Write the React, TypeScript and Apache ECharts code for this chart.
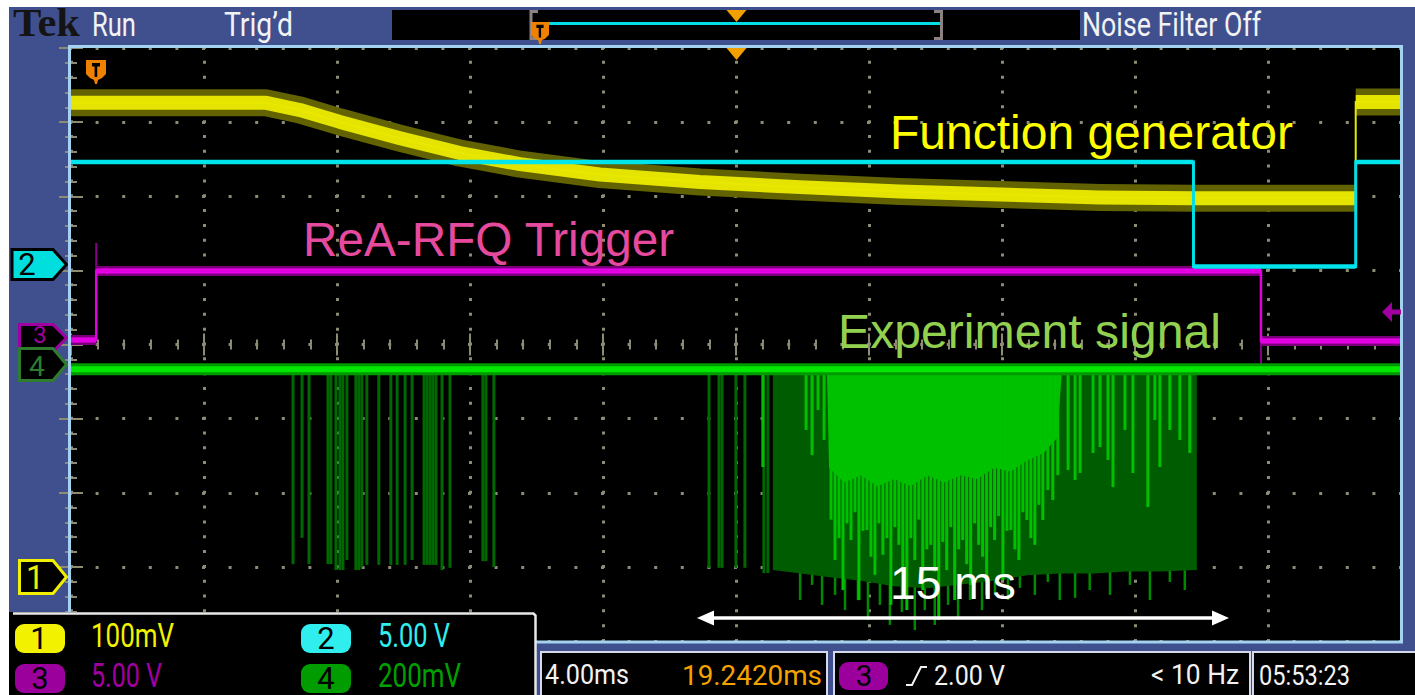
import React, { useEffect, useRef } from "react";
import * as echarts from "echarts";

// ---------------- data ----------------
// Horizontal: 4 ms/div, 10 div, record centred 19.242 ms after the trigger
const TIME_START_MS = -0.758;
const TIME_END_MS = 39.242;

// Channel 1 (yellow) – function generator, mV
const CH1_TIME_MS = [-0.758, 5.08, 6.13, 7.33, 9.14, 10.94, 12.75, 15.15, 18.16, 21.17, 24.17, 27.18, 30.19, 32.99, 37.88, 37.88, 39.242];
const CH1_MV = [640, 640, 630, 614, 592, 572, 557, 543, 533, 526, 520, 516, 512, 511, 511, 641, 641];

// Channel 2 (cyan), V
const CH2_TIME_MS = [-0.758, 33.0, 33.0, 37.88, 37.88, 39.242];
const CH2_V = [6.95, 6.95, -0.1, -0.1, 6.95, 6.95];

// Channel 3 (magenta) – ReA-RFQ trigger, V
const CH3_TIME_MS = [-0.758, 0, 0, 35.03, 35.03, 39.242];
const CH3_V = [-0.13, -0.13, 4.52, 4.52, -0.2, -0.2];
const CH3_EDGE_GLITCH: [number, number, number][] = [
  [0, 4.52, 6.41],
  [35.03, -0.2, -2.16],
];

// Channel 4 (green) – experiment signal, mV
const CH4_BASELINE_MV = -14;
// isolated negative pulses [ms, minimum mV]
const CH4_PULSES: [number, number][] = [
  [5.92, -540], [6.19, -469], [6.4, -540], [6.97, -540], [7.06, -540], [7.21, -556], [7.33, -556],
  [7.42, -556], [7.54, -529], [7.81, -556], [7.9, -556], [7.99, -548], [8.14, -542], [8.5, -542],
  [8.86, -542], [9.05, -542], [9.29, -542], [9.5, -529], [9.86, -542], [9.95, -542], [10.04, -542],
  [10.13, -542], [10.22, -542], [10.4, -556], [10.64, -550], [11.63, -532], [11.72, -532], [11.96, -548],
  [18.43, -550], [18.73, -550], [18.82, -550], [19.24, -550], [19.51, -550], [20.08, -564], [20.2, -564],
];
// envelope of the dense burst [ms, mV]
const CH4_BURST_ENVELOPE: [number, number][] = [
  [20.35, -14], [20.35, -556], [21.2, -565], [22.0, -575], [23.0, -585], [24.0, -600], [25.0, -605],
  [26.0, -595], [27.0, -585], [28.0, -570], [29.0, -565], [30.0, -565], [31.0, -560], [32.0, -560],
  [33.1, -556], [33.1, -14],
];
// deepest pulses hanging below the burst [ms, minimum mV]
const CH4_BURST_FRINGE: [number, number][] = [
  [21.17, -637], [21.53, -596], [21.83, -650], [22.22, -623], [22.52, -664], [22.91, -637], [23.21, -691],
  [23.57, -650], [23.87, -704], [24.23, -669], [24.62, -718], [24.92, -664], [25.22, -704], [25.62, -650],
  [25.92, -685], [26.28, -637], [26.64, -664], [27.03, -623], [27.42, -637], [27.78, -604], [28.23, -623],
  [28.62, -588], [28.98, -637], [29.44, -631], [29.88, -610], [30.49, -623], [31.09, -596], [31.69, -637],
  [32.29, -588], [32.74, -610],
];
// most frequent (bright) part of the burst [ms, mV]
const CH4_BURST_CORE: [number, number][] = [
  [21.98, -22], [22.04, -280], [22.5, -320], [23.0, -300], [23.5, -330], [24.0, -310], [24.5, -330],
  [25.0, -300], [25.5, -320], [26.0, -300], [26.5, -310], [27.0, -280], [27.5, -290], [28.0, -260],
  [28.5, -240], [28.9, -200], [29.04, -22],
];
const CH4_BRIGHT_PULSES: [number, number][] = [
  [20.05, -278], [21.35, -178], [21.53, -246], [21.71, -124], [21.89, -205],
  [22.1, -420], [22.22, -529], [22.34, -470], [22.46, -610], [22.58, -430], [22.7, -475], [22.82, -400],
  [22.94, -637], [23.06, -450], [23.18, -448], [23.3, -520], [23.42, -569], [23.54, -430], [23.66, -515],
  [23.78, -470], [23.9, -650], [24.02, -440], [24.14, -488], [24.26, -560], [24.38, -664], [24.5, -470],
  [24.62, -529], [24.74, -420], [24.86, -610], [24.98, -500], [25.1, -488], [25.22, -560], [25.34, -691],
  [25.46, -480], [25.58, -556], [25.7, -440], [25.82, -637], [25.94, -500], [26.06, -475], [26.18, -540],
  [26.3, -596], [26.42, -430], [26.54, -488], [26.66, -520], [26.78, -623], [26.9, -440], [27.02, -475],
  [27.14, -410], [27.27, -583], [27.39, -450], [27.51, -448], [27.63, -500], [27.75, -529], [27.87, -400],
  [27.99, -421], [28.11, -470], [28.23, -488], [28.35, -380], [28.47, -421], [28.62, -340], [28.77, -367],
  [28.92, -300],
  [29.23, -286], [29.44, -313], [29.59, -294], [29.98, -240], [30.19, -224], [30.43, -259], [30.58, -332],
  [30.94, -178], [31.18, -294], [31.63, -386], [31.84, -151], [31.99, -278], [32.29, -178], [32.59, -205],
  [32.89, -240],
];

// vertical settings: units per division and ground marker position (div from centre)
const CHANNELS: Record<string, { perDiv: number; ground: number }> = {
  ch1: { perDiv: 100, ground: -3.137 },
  ch2: { perDiv: 5, ground: 1.073 },
  ch3: { perDiv: 5, ground: 0.088 },
  ch4: { perDiv: 200, ground: -0.263 },
};

// ---------------- helpers ----------------
const GRAT = "#8e8b74";
const FRAME = "#40508f";

const toDiv = (ch: string) => (v: number) => CHANNELS[ch].ground + v / CHANNELS[ch].perDiv;

function trace(ts: number[], vs: number[], f: (v: number) => number) {
  return ts.map((t, i) => [t, f(vs[i])]);
}
function flats(ts: number[], vs: number[], f: (v: number) => number) {
  const out: any[] = [];
  ts.forEach((t, i) => {
    if (i > 0 && t === ts[i - 1]) out.push([t, "-"]);
    out.push([t, f(vs[i])]);
  });
  return out;
}

function lineSeries(data: any[], color: string, width: number, z: number, join = "round") {
  return {
    type: "line",
    xAxisIndex: 2,
    yAxisIndex: 0,
    data,
    symbol: "none",
    silent: true,
    z,
    lineStyle: { color, width, cap: "butt", join },
    emphasis: { disabled: true },
  };
}

function segSeries(items: number[][], color: string, width: number, z: number) {
  return {
    type: "custom",
    xAxisIndex: 2,
    yAxisIndex: 0,
    silent: true,
    z,
    dimensions: ["t", "a", "b"],
    encode: { x: 0, y: [1, 2] },
    data: items,
    renderItem: (params: any, api: any) => {
      const a = api.coord([api.value(0), api.value(1)]);
      const b = api.coord([api.value(0), api.value(2)]);
      return {
        type: "line",
        shape: { x1: a[0], y1: a[1], x2: b[0], y2: b[1] },
        style: { stroke: color, lineWidth: width },
      };
    },
  };
}

function polySeries(pts: number[][], color: string, z: number) {
  return {
    type: "custom",
    xAxisIndex: 2,
    yAxisIndex: 0,
    silent: true,
    z,
    encode: { x: 0, y: 1 },
    data: pts,
    renderItem: (params: any, api: any) => {
      if (params.dataIndex !== 0) return null;
      return {
        type: "polygon",
        shape: { points: pts.map((p) => api.coord(p)) },
        style: { fill: color },
      };
    },
  };
}

let measureCtx: any = null;
function textWidth(text: string, font: string) {
  if (!measureCtx) measureCtx = document.createElement("canvas").getContext("2d");
  measureCtx.font = font;
  return measureCtx.measureText(text).width;
}

function ptext(
  text: string,
  x: number,
  capTop: number,
  capH: number,
  width: number | null,
  fill: string,
  opts: { align?: string; family?: string; weight?: string; capRatio?: number; z?: number } = {}
) {
  const family = opts.family || "Roboto";
  const weight = opts.weight || "normal";
  const capRatio = opts.capRatio || 0.711;
  const align = opts.align || "left";
  const fontSize = capH / capRatio;
  const sx = width ? width / textWidth(text, `${weight} ${fontSize}px ${family}`) : 1;
  return {
    type: "text",
    x,
    y: capTop + capH / 2,
    scaleX: sx,
    z: opts.z ?? 70,
    silent: true,
    style: {
      text,
      fill,
      fontSize,
      fontFamily: family,
      fontWeight: weight,
      lineHeight: Math.round(capH * 1.1),
      align,
      textAlign: align,
      verticalAlign: "middle",
      textVerticalAlign: "middle",
    },
  };
}

function shield(x: number, y: number, w: number, h: number, z: number) {
  const P = (px: number, py: number) => [x + (px * w) / 20, y + (py * h) / 24];
  return [
    {
      type: "polygon",
      z,
      silent: true,
      shape: { points: [P(0, 0), P(20, 0), P(20, 14), P(16, 18), P(12, 20), P(11, 24), P(9, 24), P(8, 20), P(4, 18), P(0, 14)] },
      style: { fill: "#f08000" },
    },
    {
      type: "polygon",
      z: z + 1,
      silent: true,
      shape: { points: [P(6, 3), P(14, 3), P(14, 6.5), P(11.2, 6.5), P(11.2, 17), P(8.6, 17), P(8.6, 6.5), P(6, 6.5)] },
      style: { fill: "#000" },
    },
  ];
}

function marker(x0: number, yc: number, h: number, stroke: string, fill: string, z: number) {
  return {
    type: "polygon",
    z,
    silent: true,
    shape: { points: [[x0, yc - h / 2], [53, yc - h / 2], [66.5, yc], [53, yc + h / 2], [x0, yc + h / 2]] },
    style: { fill, stroke, lineWidth: 3 },
  };
}

function pill(x: number, y: number, w: number, h: number, fill: string, z: number) {
  return { type: "rect", z, silent: true, shape: { x, y, width: w, height: h, r: 9 }, style: { fill } };
}

function buildGraphics() {
  const g: any[] = [];
  // outer frame
  g.push({ type: "rect", z: -100, silent: true, shape: { x: 9, y: 7, width: 1406, height: 688 }, style: { fill: FRAME } });

  // ---- header ----
  g.push(ptext("Tek", 13, 10, 26, 67, "#141414", { family: "Liberation Serif", weight: "bold", capRatio: 0.662, z: -80 }));
  g.push(ptext("Run", 92, 13, 23, 44, "#f2f2f2", { z: -80 }));
  g.push(ptext("Trig\u2019d", 224, 13, 23, 69, "#f2f2f2", { z: -80 }));
  g.push(ptext("Noise Filter Off", 1082, 13, 23, 179, "#f2f2f2", { z: -80 }));
  g.push({ type: "rect", z: -90, silent: true, shape: { x: 392, y: 10, width: 688, height: 30 }, style: { fill: "#000" } });
  g.push({ type: "polyline", z: -85, silent: true, shape: { points: [[538, 11.5], [531, 11.5], [531, 38.5], [538, 38.5]] }, style: { stroke: "#8c8282", lineWidth: 3, fill: "none" } });
  g.push({ type: "polyline", z: -85, silent: true, shape: { points: [[934, 11.5], [941.5, 11.5], [941.5, 38.5], [934, 38.5]] }, style: { stroke: "#8c8282", lineWidth: 3, fill: "none" } });
  g.push({ type: "line", z: -84, silent: true, shape: { x1: 546, y1: 23.5, x2: 940, y2: 23.5 }, style: { stroke: "#00dde6", lineWidth: 3 } });
  g.push({ type: "polygon", z: -84, silent: true, shape: { points: [[726.5, 10], [746.5, 10], [736.5, 22]] }, style: { fill: "#f2a000" } });
  g.push(...shield(531, 22, 18, 22, -83));

  // ---- plot overlays ----
  g.push({ type: "rect", z: 40, silent: true, shape: { x: 69.5, y: 46.5, width: 1332, height: 595.5 }, style: { fill: "none", stroke: "#a5d2f0", lineWidth: 3 } });
  g.push({ type: "polygon", z: 45, silent: true, shape: { points: [[726.5, 48], [746.5, 48], [736.5, 60]] }, style: { fill: "#f2a000" } });
  g.push(...shield(86, 60, 20, 24, 45));
  g.push({
    type: "polygon",
    z: 45,
    silent: true,
    shape: { points: [[1382, 312], [1392, 302], [1392, 309.5], [1401, 309.5], [1401, 314.5], [1392, 314.5], [1392, 322]] },
    style: { fill: "#a000a0" },
  });

  // channel markers on the left
  g.push(marker(12, 264.5, 30, "#000", "#00dede", 30));
  g.push(ptext("2", 27, 253, 22, null, "#000", { align: "center", z: 31 }));
  g.push(marker(19.5, 338, 27, "#a000a0", "#000", 30));
  g.push(ptext("3", 40, 326, 17, null, "#a000a0", { align: "center", z: 31 }));
  g.push(marker(19.5, 364.5, 32, "#2e7d2e", "#000", 32));
  g.push(ptext("4", 37, 356, 20, null, "#2e7d2e", { align: "center", z: 33 }));
  g.push(marker(19.5, 577, 33, "#f0f000", "#000", 30));
  g.push(ptext("1", 35, 566, 23, null, "#f0f000", { align: "center", z: 31 }));

  // annotations
  g.push(ptext("Function generator", 890, 116, 34, 403, "#ffff00", { family: "Liberation Sans", capRatio: 0.716, z: 50 }));
  g.push(ptext("ReA-RFQ Trigger", 303, 223, 34, 372, "#e64a9e", { family: "Liberation Sans", capRatio: 0.716, z: 50 }));
  g.push(ptext("Experiment signal", 838, 315, 34, 383, "#92d050", { family: "Liberation Sans", capRatio: 0.716, z: 50 }));
  g.push(ptext("15 ms", 890, 567, 33, 126, "#ffffff", { family: "Liberation Sans", capRatio: 0.716, z: 50 }));
  g.push({ type: "line", z: 50, silent: true, shape: { x1: 710, y1: 618, x2: 1216, y2: 618 }, style: { stroke: "#fff", lineWidth: 3.5 } });
  g.push({ type: "polygon", z: 50, silent: true, shape: { points: [[697, 618], [714, 610.5], [714, 625.5]] }, style: { fill: "#fff" } });
  g.push({ type: "polygon", z: 50, silent: true, shape: { points: [[1229, 618], [1212, 610.5], [1212, 625.5]] }, style: { fill: "#fff" } });

  // ---- legend box (bottom-left) ----
  g.push({ type: "rect", z: 60, silent: true, shape: { x: 9, y: 612, width: 527, height: 83 }, style: { fill: "#000" } });
  g.push({ type: "polyline", z: 61, silent: true, shape: { points: [[13, 613.5], [533.5, 613.5], [535.5, 615.5], [535.5, 695]] }, style: { stroke: "#e8e8e8", lineWidth: 2.5, fill: "none" } });
  g.push(pill(15, 624, 50, 29, "#f2f200", 62));
  g.push(pill(15, 664, 50, 29, "#9c009c", 62));
  g.push(pill(301, 624, 50, 29, "#30eeee", 62));
  g.push(pill(301, 664, 50, 29, "#009c00", 62));
  g.push(ptext("1", 39, 627, 22, null, "#000", { align: "center", z: 63 }));
  g.push(ptext("3", 40, 667, 22, null, "#000", { align: "center", z: 63 }));
  g.push(ptext("2", 326, 627, 22, null, "#000", { align: "center", z: 63 }));
  g.push(ptext("4", 326, 667, 22, null, "#000", { align: "center", z: 63 }));
  g.push(ptext("100mV", 91, 624, 23, 83, "#f2f200", { z: 63 }));
  g.push(ptext("5.00 V", 91, 664, 23, 71, "#a000a0", { z: 63 }));
  g.push(ptext("5.00 V", 378, 624, 23, 72, "#30eeee", { z: 63 }));
  g.push(ptext("200mV", 378, 664, 23, 83, "#00a000", { z: 63 }));

  // ---- status boxes (bottom) ----
  const box = (x: number, w: number) => ({
    type: "rect",
    z: -60,
    silent: true,
    shape: { x, y: 652, width: w, height: 45 },
    style: { fill: "#000", stroke: "#d6d8ec", lineWidth: 2 },
  });
  g.push(box(541, 286), box(834, 416), box(1253, 165));
  g.push(ptext("4.00ms", 545, 665, 20, 84, "#f2f2f2", { z: -55 }));
  g.push(ptext("19.2420ms", 682, 665, 20, 140, "#f5a200", { z: -55 }));
  g.push(pill(839, 662, 49, 28, "#9c009c", -55));
  g.push(ptext("3", 864, 665, 21, null, "#000", { align: "center", z: -54 }));
  g.push({ type: "polyline", z: -55, silent: true, shape: { points: [[906, 685], [912, 685], [921, 667], [927, 667]] }, style: { stroke: "#f2f2f2", lineWidth: 2, fill: "none" } });
  g.push(ptext("2.00 V", 934, 665, 20, 71, "#f2f2f2", { z: -55 }));
  g.push(ptext("< 10 Hz", 1151, 665, 20, 88, "#f2f2f2", { z: -55 }));
  g.push(ptext("05:53:23", 1259, 665, 20, 91, "#f2f2f2", { z: -55 }));
  return g;
}

function graticuleX(position: string, split: boolean) {
  return {
    type: "value",
    min: 0,
    max: 10,
    interval: 1,
    position,
    axisLine: { show: false },
    axisLabel: { show: false },
    axisTick: { show: true, inside: true, length: 11, lineStyle: { color: GRAT, width: 2 } },
    minorTick: { show: true, splitNumber: 5, length: 5, lineStyle: { color: GRAT, width: 2 } },
    splitLine: { show: split, lineStyle: { color: GRAT, width: 3, type: [3, 11.825], dashOffset: 1.5 } },
    minorSplitLine: { show: false },
  };
}
function graticuleY(position: string, split: boolean) {
  return {
    type: "value",
    min: -4,
    max: 4,
    interval: 1,
    position,
    axisLine: { show: false },
    axisLabel: { show: false },
    axisTick: { show: true, inside: true, length: 12, lineStyle: { color: GRAT, width: 2 } },
    minorTick: { show: true, splitNumber: 5, length: 6, lineStyle: { color: GRAT, width: 2 } },
    splitLine: { show: split, lineStyle: { color: GRAT, width: 3, type: [3, 23.6], dashOffset: 1.5 } },
    minorSplitLine: { show: false },
  };
}

function buildOption() {
  const d1 = toDiv("ch1");
  const d2 = toDiv("ch2");
  const d3 = toDiv("ch3");
  const d4 = toDiv("ch4");
  const base4 = d4(CH4_BASELINE_MV);

  const series: any[] = [
    // ch1 yellow
    lineSeries(flats(CH1_TIME_MS, CH1_MV, d1), "#626200", 27, 3),
    lineSeries(flats(CH1_TIME_MS, CH1_MV, d1), "#e4e400", 14, 4),
    lineSeries(trace(CH1_TIME_MS, CH1_MV, d1), "#e8e800", 2, 4, "miter"),
    // ch3 magenta
    lineSeries(flats(CH3_TIME_MS, CH3_V, d3), "#7a007a", 10, 5),
    lineSeries(flats(CH3_TIME_MS, CH3_V, d3), "#f000f0", 5, 6),
    lineSeries(trace(CH3_TIME_MS, CH3_V, d3), "#e000e0", 2.5, 6, "miter"),
    segSeries(CH3_EDGE_GLITCH.map(([t, a, b]) => [t, d3(a), d3(b)]), "#840084", 2, 5),
    // ch2 cyan
    lineSeries(trace(CH2_TIME_MS, CH2_V, d2), "#00dfe8", 3, 7, "miter"),
    lineSeries(flats(CH2_TIME_MS, CH2_V, d2), "#00e4ec", 4.5, 7),
    // ch4 green
    segSeries(CH4_PULSES.map(([t, v]) => [t, base4, d4(v)]), "#006800", 3, 8),
    segSeries(CH4_BURST_FRINGE.map(([t, v]) => [t, base4, d4(v)]), "#008a00", 2.5, 8),
    polySeries(CH4_BURST_ENVELOPE.map(([t, v]) => [t, d4(v)]), "#005c00", 8),
    polySeries(CH4_BURST_CORE.map(([t, v]) => [t, d4(v)]), "#00c400", 9),
    segSeries(CH4_BRIGHT_PULSES.map(([t, v]) => [t, base4, d4(v)]), "#00c000", 3, 9),
    lineSeries([[TIME_START_MS, base4], [TIME_END_MS, base4]], "#009a00", 12, 10),
    lineSeries([[TIME_START_MS, base4], [TIME_END_MS, base4]], "#00e800", 6, 11),
  ];

  return {
    animation: false,
    backgroundColor: "#ffffff",
    grid: { left: 71, top: 48, width: 1330, height: 593, show: true, backgroundColor: "#000", borderWidth: 0 },
    xAxis: [
      graticuleX("top", true),
      graticuleX("bottom", false),
      { type: "value", min: TIME_START_MS, max: TIME_END_MS, show: false },
    ],
    yAxis: [graticuleY("left", true), graticuleY("right", false)],
    series,
    graphic: { elements: buildGraphics() },
  };
}

export default function App() {
  const ref = useRef<HTMLDivElement>(null);
  useEffect(() => {
    const chart = echarts.init(ref.current as HTMLDivElement, undefined, { renderer: "svg" });
    chart.setOption(buildOption() as any);
    return () => chart.dispose();
  }, []);
  return <div ref={ref} style={{ position: "fixed", left: 0, top: 0, width: 1415, height: 695 }} />;
}
